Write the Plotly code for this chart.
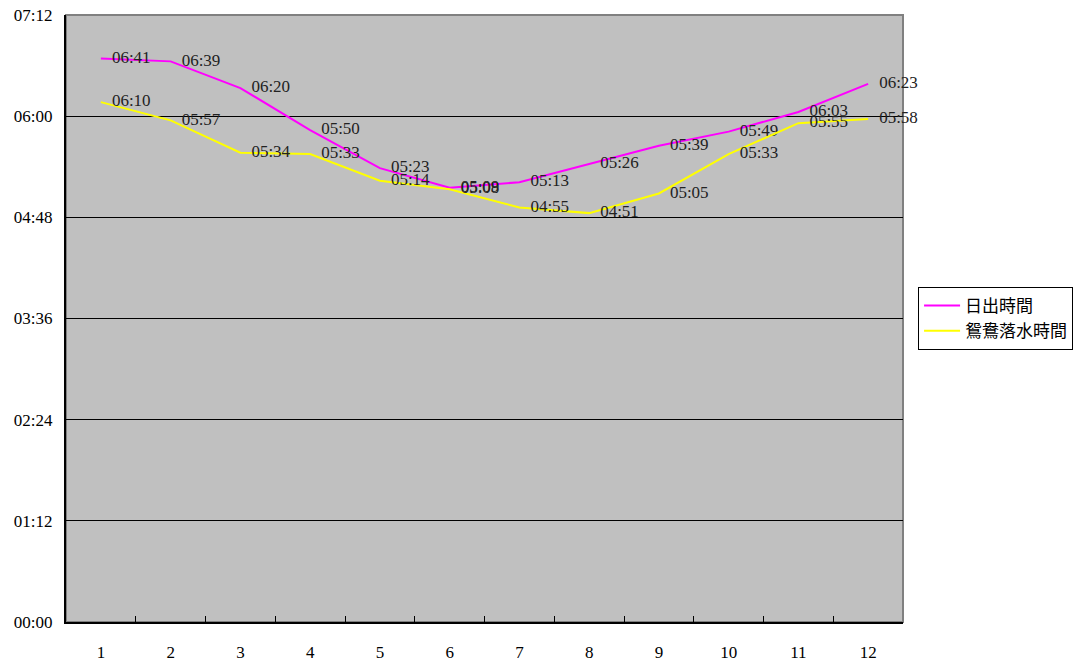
import plotly.graph_objects as go

months = ["1", "2", "3", "4", "5", "6", "7", "8", "9", "10", "11", "12"]
sunrise = ["06:41", "06:39", "06:20", "05:50", "05:23", "05:09", "05:13", "05:26", "05:39", "05:49", "06:03", "06:23"]
yuanyang = ["06:10", "05:57", "05:34", "05:33", "05:14", "05:08", "04:55", "04:51", "05:05", "05:33", "05:55", "05:58"]
y_ticks = ["00:00", "01:12", "02:24", "03:36", "04:48", "06:00", "07:12"]

def to_min(s):
    h, m = s.split(":")
    return int(h) * 60 + int(m)

serif = "Liberation Serif, DejaVu Serif, serif"
cjk = "Noto Sans CJK TC"

fig = go.Figure()
for name, vals, color in [("日出時間", sunrise, "#FF00FF"), ("鴛鴦落水時間", yuanyang, "#FFFF00")]:
    fig.add_trace(go.Scatter(
        x=months, y=[to_min(v) for v in vals], name=name,
        mode="lines+markers+text", text=vals, textposition="middle right",
        line=dict(color=color, width=2),
        marker=dict(size=16, color="rgba(0,0,0,0)"),
        textfont=dict(family=serif, size=17, color="#222222"),
        cliponaxis=False,
    ))

fig.add_shape(type="rect", xref="paper", yref="paper", x0=0, y0=0, x1=1, y1=1,
              line=dict(color="#808080", width=2), layer="below")

fig.update_layout(
    width=1078, height=666,
    margin=dict(l=66, r=175, t=15, b=44, autoexpand=False),
    paper_bgcolor="white", plot_bgcolor="#C0C0C0",
    legend=dict(
        x=1.018, y=0.5, xanchor="left", yanchor="middle",
        bordercolor="black", borderwidth=1, bgcolor="white",
        font=dict(family=cjk, size=17, color="black"),
        tracegroupgap=0, itemwidth=36,
    ),
    showlegend=True,
)
fig.update_xaxes(
    type="category", tickson="boundaries", ticks="inside", ticklen=6,
    tickcolor="black", showline=True, linecolor="black", linewidth=2,
    showgrid=False, ticklabelstandoff=14, automargin=False,
    tickfont=dict(family=serif, size=17, color="black"),
    range=[-0.5, 11.5],
)
fig.update_yaxes(
    range=[0, 432], tickvals=[to_min(t) for t in y_ticks], ticktext=y_ticks,
    ticks="inside", ticklen=6, tickcolor="black",
    showline=True, linecolor="black", linewidth=2,
    showgrid=True, gridcolor="black", gridwidth=1, zeroline=False,
    ticklabelstandoff=8, automargin=False,
    tickfont=dict(family=serif, size=17, color="black"),
)

fig.write_html("out.html", post_script="document.body.style.margin='0';",
               config={"displayModeBar": False})
